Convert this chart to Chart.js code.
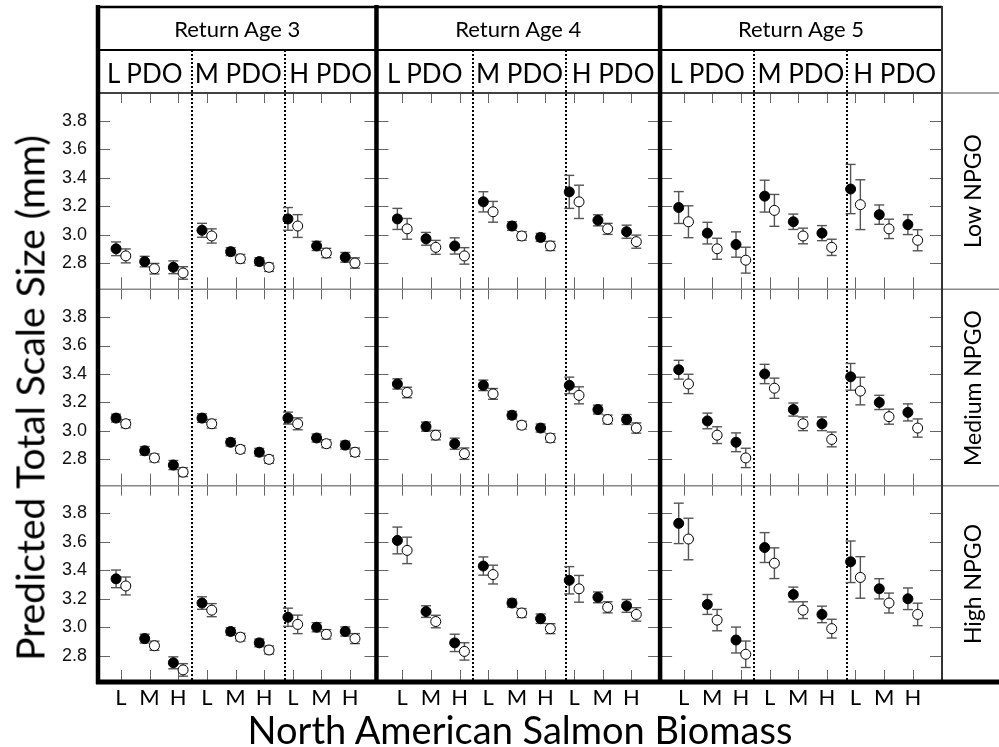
<!DOCTYPE html>
<html>
<head>
<meta charset="utf-8">
<title>Predicted Total Scale Size</title>
<script src="https://cdn.jsdelivr.net/npm/chart.js@4.4.1/dist/chart.umd.min.js"></script>
<style>
    body { margin: 0; background: #fff; }
    #wrap { position: relative; width: 999px; height: 747px; overflow: hidden; }
    #chart { position: absolute; left: 0; top: 0; }
    .lbl { position: absolute; font-family: Lato, sans-serif; color: #000; white-space: nowrap;
           line-height: 1; transform: translate(-50%, -50%); }
    .rot { transform: translate(-50%, -50%) rotate(-90deg); }
</style>
</head>
<body>
<div id="wrap"><canvas id="chart" width="999" height="747"></canvas></div>
<script>
//-------------------------LABELS------------------------------------------------------

var returnAges = ['Return Age 3', 'Return Age 4', 'Return Age 5'];
var pdoLevels = ['L PDO', 'M PDO', 'H PDO'];
var biomass = ['L', 'M', 'H'];                    // North American salmon biomass
var npgoLevels = ['Low NPGO', 'Medium NPGO', 'High NPGO'];
var sizeTicks = [2.8, 3.0, 3.2, 3.4, 3.6, 3.8];

//-------------------------DATA (order: age 3..5, PDO L/M/H, biomass L/M/H)--------------

// Low NPGO
var lowFilled    = [2.90, 2.81, 2.77,  3.03, 2.88, 2.81,  3.11, 2.92, 2.84,
                    3.11, 2.97, 2.92,  3.23, 3.06, 2.98,  3.30, 3.10, 3.02,
                    3.19, 3.01, 2.93,  3.27, 3.09, 3.01,  3.32, 3.14, 3.07];
var lowFilledErr = [0.048, 0.037, 0.045,  0.049, 0.028, 0.027,  0.080, 0.032, 0.034,
                    0.074, 0.045, 0.057,  0.071, 0.030, 0.028,  0.116, 0.039, 0.046,
                    0.112, 0.076, 0.089,  0.112, 0.054, 0.053,  0.173, 0.068, 0.070];
var lowOpen      = [2.85, 2.76, 2.73,  2.99, 2.83, 2.77,  3.06, 2.87, 2.80,
                    3.04, 2.91, 2.85,  3.16, 2.99, 2.92,  3.23, 3.04, 2.95,
                    3.09, 2.90, 2.82,  3.17, 2.99, 2.91,  3.21, 3.04, 2.96];
var lowOpenErr   = [0.049, 0.037, 0.044,  0.050, 0.030, 0.029,  0.080, 0.033, 0.036,
                    0.073, 0.049, 0.058,  0.073, 0.030, 0.032,  0.117, 0.039, 0.046,
                    0.112, 0.074, 0.091,  0.112, 0.055, 0.057,  0.175, 0.068, 0.074];

// Medium NPGO
var medFilled    = [3.09, 2.86, 2.76,  3.09, 2.92, 2.85,  3.09, 2.95, 2.90,
                    3.33, 3.03, 2.91,  3.32, 3.11, 3.02,  3.32, 3.15, 3.08,
                    3.43, 3.07, 2.92,  3.40, 3.15, 3.05,  3.38, 3.20, 3.13];
var medFilledErr = [0.028, 0.030, 0.032,  0.030, 0.026, 0.027,  0.042, 0.028, 0.028,
                    0.036, 0.032, 0.039,  0.037, 0.027, 0.028,  0.058, 0.031, 0.035,
                    0.066, 0.055, 0.066,  0.068, 0.046, 0.048,  0.094, 0.050, 0.060];
var medOpen      = [3.05, 2.81, 2.71,  3.05, 2.87, 2.80,  3.05, 2.91, 2.85,
                    3.27, 2.97, 2.84,  3.26, 3.04, 2.95,  3.25, 3.08, 3.02,
                    3.33, 2.97, 2.81,  3.30, 3.05, 2.94,  3.28, 3.10, 3.02];
var medOpenErr   = [0.028, 0.028, 0.031,  0.030, 0.027, 0.027,  0.042, 0.028, 0.029,
                    0.037, 0.033, 0.040,  0.038, 0.027, 0.030,  0.060, 0.031, 0.036,
                    0.068, 0.059, 0.068,  0.071, 0.048, 0.052,  0.097, 0.053, 0.064];

// High NPGO
var highFilled    = [3.34, 2.92, 2.75,  3.17, 2.97, 2.89,  3.07, 3.00, 2.97,
                     3.61, 3.11, 2.89,  3.43, 3.17, 3.06,  3.33, 3.21, 3.15,
                     3.73, 3.16, 2.91,  3.56, 3.23, 3.09,  3.46, 3.27, 3.20];
var highFilledErr = [0.062, 0.031, 0.042,  0.044, 0.027, 0.027,  0.064, 0.032, 0.032,
                     0.094, 0.041, 0.061,  0.064, 0.028, 0.033,  0.096, 0.038, 0.045,
                     0.142, 0.070, 0.091,  0.105, 0.052, 0.058,  0.146, 0.071, 0.076];
var highOpen      = [3.29, 2.87, 2.70,  3.12, 2.93, 2.84,  3.02, 2.95, 2.92,
                     3.54, 3.04, 2.83,  3.37, 3.10, 2.99,  3.27, 3.14, 3.09,
                     3.62, 3.05, 2.81,  3.45, 3.12, 2.99,  3.35, 3.17, 3.09];
var highOpenErr   = [0.063, 0.032, 0.044,  0.046, 0.027, 0.028,  0.065, 0.033, 0.035,
                     0.093, 0.044, 0.061,  0.066, 0.031, 0.035,  0.094, 0.039, 0.047,
                     0.146, 0.075, 0.093,  0.108, 0.059, 0.066,  0.146, 0.070, 0.079];

//-------------------------X LAYOUT (axis units, one unit per biomass slot)--------------

var BLOCK = 9.82;                                  // distance between return-age blocks
var SHIFT = 0.17;                                  // filled left, open right of the slot
var blockEdges = [-0.8, 8.92, 18.82, 28.66];       // borders between return ages
var pdoEdges = [2.47, 5.72];                       // dotted lines inside each block

function slot(i) {
    return Math.floor(i / 9) * BLOCK + (i % 9);
}

var slots = [];
for (let i = 0; i < 27; i++) slots.push(slot(i));

function points(values, shift) {
    return values.map(function (v, i) { return { x: slots[i] + shift, y: v }; });
}

function series(values, errs, axis, filled) {
    return {
        type: 'scatter',
        data: points(values, filled ? -SHIFT : SHIFT),
        err: errs,
        yAxisID: axis,
        pointRadius: 5,
        pointBorderWidth: 1,
        pointBorderColor: '#000',
        pointBackgroundColor: filled ? '#000' : '#fff'
    };
}

//-------------------------DRAWING HELPERS----------------------------------------------

function line(c, x1, y1, x2, y2) {
    c.beginPath();
    c.moveTo(x1, y1);
    c.lineTo(x2, y2);
    c.stroke();
}

var framePlugin = {
    id: 'frame',
    beforeDatasetsDraw: function (chart) {
        var c = chart.ctx;
        var x = chart.scales.x;
        var area = chart.chartArea;
        var rows = [chart.scales.yLow, chart.scales.yMed, chart.scales.yHigh];
        var W = chart.width;
        c.save();

        // small inward ticks on every panel
        c.strokeStyle = '#666';
        c.lineWidth = 1;
        rows.forEach(function (s) {
            slots.forEach(function (v) {
                var px = Math.round(x.getPixelForValue(v)) + 0.5;
                line(c, px, s.top, px, s.top + 10);
                line(c, px, s.bottom, px, s.bottom - 12);
            });
            sizeTicks.forEach(function (v) {
                var py = Math.round(s.getPixelForValue(v)) + 0.5;
                blockEdges.forEach(function (e, b) {
                    var px = x.getPixelForValue(e);
                    if (b < 3) line(c, px, py, px + 12, py);
                    if (b > 0) line(c, px, py, px - 12, py);
                });
            });
        });

        // row separators
        c.strokeStyle = '#888';
        c.lineWidth = 1.5;
        rows.forEach(function (s, r) {
            line(c, area.left, s.top, W, s.top);
        });
        c.strokeStyle = '#222';
        line(c, area.left, area.top, area.right, area.top);

        // header boxes
        c.strokeStyle = '#000';
        c.lineWidth = 2.5;
        line(c, area.left - 2, 7, area.right, 7);
        c.lineWidth = 2;
        line(c, area.left, 50, area.right, 50);

        // dotted PDO dividers
        c.setLineDash([2, 2]);
        c.lineWidth = 2;
        for (let b = 0; b < 3; b++) {
            pdoEdges.forEach(function (e) {
                var px = Math.round(x.getPixelForValue(b * BLOCK + e));
                line(c, px, 50, px, area.bottom);
            });
        }
        c.setLineDash([]);

        // right border and NPGO strip
        c.strokeStyle = '#333';
        c.lineWidth = 2;
        line(c, area.right, 6, area.right, area.bottom);

        // thick return-age borders
        c.strokeStyle = '#000';
        c.lineWidth = 4.5;
        for (let b = 0; b < 3; b++) {
            var bx = x.getPixelForValue(blockEdges[b]);
            line(c, bx, 5, bx, area.bottom + 2);
        }
        c.lineWidth = 5;
        line(c, area.left - 2, area.bottom, W, area.bottom);

        // error bars
        c.strokeStyle = '#555';
        c.lineWidth = 1.4;
        chart.data.datasets.forEach(function (ds, di) {
            var meta = chart.getDatasetMeta(di);
            var ys = chart.scales[ds.yAxisID];
            meta.data.forEach(function (pt, j) {
                var v = ds.data[j].y, e = ds.err[j];
                var top = ys.getPixelForValue(v + e);
                var bot = ys.getPixelForValue(v - e);
                line(c, pt.x, top, pt.x, bot);
                line(c, pt.x - 5, top, pt.x + 5, top);
                line(c, pt.x - 5, bot, pt.x + 5, bot);
            });
        });
        c.restore();
    }
};

//-------------------------CHART---------------------------------------------------------

function rowScale(weight) {
    return {
        type: 'linear',
        position: 'left',
        stack: 'npgo',
        stackWeight: 1,
        weight: weight,
        min: 2.615,
        max: 3.995,
        afterBuildTicks: function (axis) {
            axis.ticks = sizeTicks.map(function (v) { return { value: v }; });
        },
        afterFit: function (axis) { axis.width = 98; },
        grid: { drawOnChartArea: false, drawTicks: false },
        border: { display: false },
        ticks: {
            autoSkip: false,
            padding: 11,
            color: '#111',
            font: { family: 'Liberation Sans', size: 18 },
            callback: function (v) { return v.toFixed(1); }
        }
    };
}

var ctx = document.getElementById('chart').getContext('2d');
var chart = new Chart(ctx, {
    type: 'scatter',
    data: {
        datasets: [
            series(lowFilled, lowFilledErr, 'yLow', true),
            series(lowOpen, lowOpenErr, 'yLow', false),
            series(medFilled, medFilledErr, 'yMed', true),
            series(medOpen, medOpenErr, 'yMed', false),
            series(highFilled, highFilledErr, 'yHigh', true),
            series(highOpen, highOpenErr, 'yHigh', false)
        ]
    },
    options: {
        responsive: false,
        animation: false,
        events: [],
        layout: { padding: { top: 93, right: 57, bottom: 0, left: 0 } },
        plugins: { legend: { display: false }, tooltip: { enabled: false } },
        scales: {
            x: {
                type: 'linear',
                position: 'bottom',
                min: blockEdges[0],
                max: blockEdges[3],
                afterBuildTicks: function (axis) {
                    axis.ticks = slots.map(function (v) { return { value: v }; });
                },
                afterFit: function (axis) { axis.height = 65; },
                grid: { display: false, drawTicks: false },
                border: { display: false },
                ticks: {
                    autoSkip: false,
                    maxRotation: 0,
                    padding: 3,
                    color: '#000',
                    font: { family: 'Lato', size: 22 },
                    callback: function (v, i) { return biomass[i % 3]; }
                }
            },
            yLow: rowScale(3),
            yMed: rowScale(2),
            yHigh: rowScale(1)
        }
    },
    plugins: [framePlugin]
});

//-------------------------HTML TEXT (placed from the chart's scales)--------------------

var wrap = document.getElementById('wrap');

function addLabel(text, left, top, size, rotated) {
    var div = document.createElement('div');
    div.className = rotated ? 'lbl rot' : 'lbl';
    div.textContent = text;
    div.style.left = left + 'px';
    div.style.top = top + 'px';
    div.style.fontSize = size + 'px';
    wrap.appendChild(div);
}

var xs = chart.scales.x;
for (let b = 0; b < 3; b++) {
    var left = xs.getPixelForValue(blockEdges[b]);
    var right = xs.getPixelForValue(blockEdges[b + 1]);
    addLabel(returnAges[b], (left + right) / 2, 29, 22);
    var cuts = [left, xs.getPixelForValue(b * BLOCK + pdoEdges[0]),
                xs.getPixelForValue(b * BLOCK + pdoEdges[1]), right];
    for (let p = 0; p < 3; p++) {
        addLabel(pdoLevels[p], (cuts[p] + cuts[p + 1]) / 2, 73, 26);
    }
}

var rowAxes = ['yLow', 'yMed', 'yHigh'];
rowAxes.forEach(function (id, r) {
    var s = chart.scales[id];
    addLabel(npgoLevels[r], 972, (s.top + s.bottom) / 2, 23, true);
});

addLabel('Predicted Total Scale Size (mm)', 30, 398, 39, true);
addLabel('North American Salmon Biomass', (chart.chartArea.left + chart.chartArea.right) / 2, 729, 38);
</script>
</body>
</html>
